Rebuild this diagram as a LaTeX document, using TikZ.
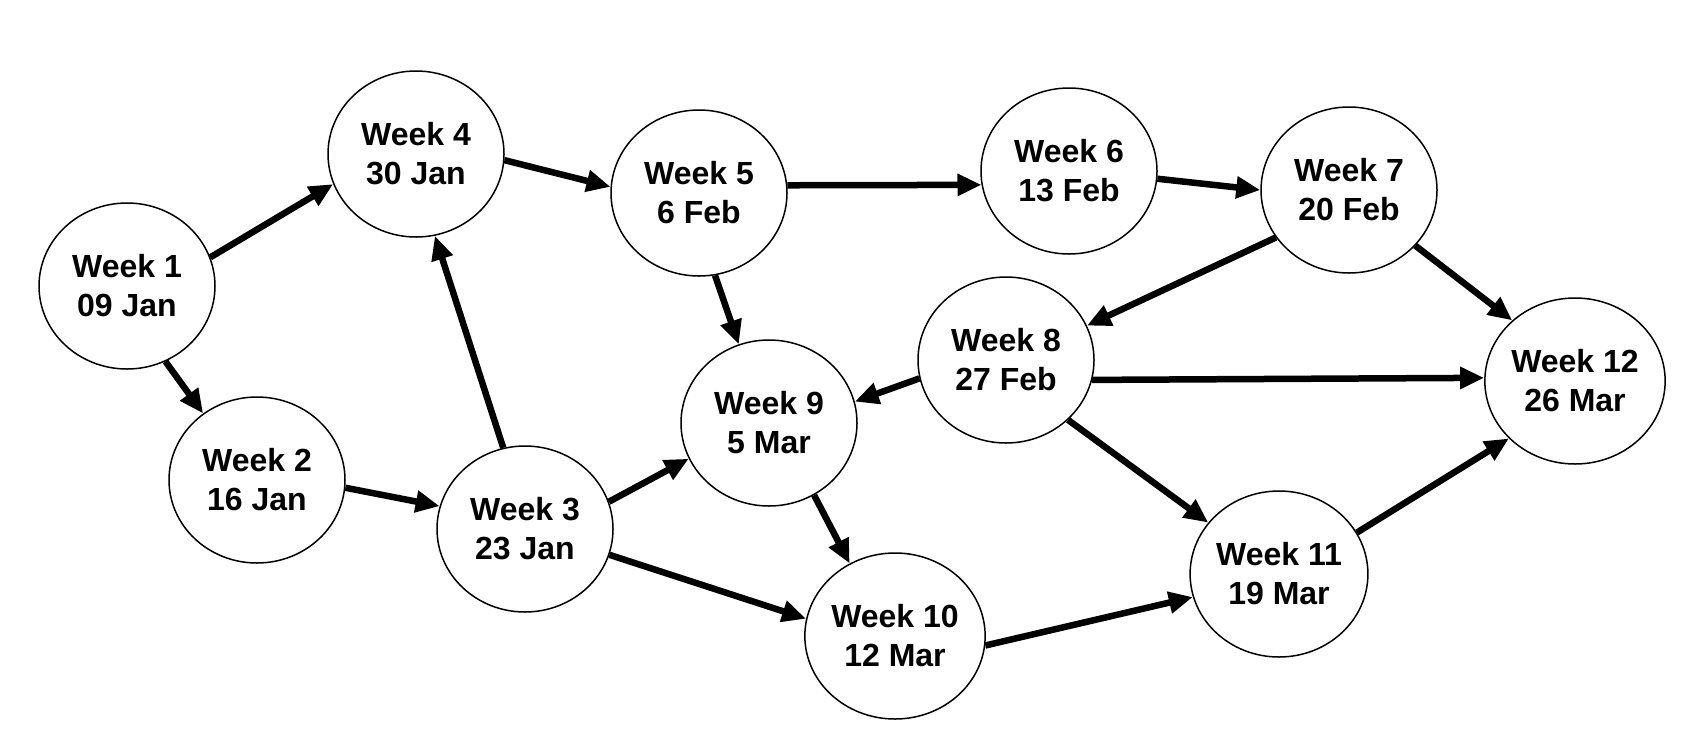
\documentclass[tikz,border=0pt]{standalone}
\usepackage{fontspec}
\setmainfont{Liberation Sans}
\usetikzlibrary{shapes.geometric,arrows.meta}
\begin{document}
\begin{tikzpicture}[x=1pt,y=-1pt,
  wk/.style={ellipse,draw=black,line width=1.5pt,fill=white,minimum width=176pt,minimum height=166pt,inner sep=0pt,
    align=center,font=\fontsize{32}{39}\selectfont\bfseries},
  link/.style={line width=6.5pt,-{Triangle[length=24pt,width=21pt]}}]
\useasboundingbox[fill=white] (0,0) rectangle (1704,734);
\node[wk] (w1) at (127,286) {Week 1\\09 Jan};
\node[wk] (w2) at (257,480) {Week 2\\16 Jan};
\node[wk] (w3) at (525,529) {Week 3\\23 Jan};
\node[wk] (w4) at (416,154) {Week 4\\30 Jan};
\node[wk] (w5) at (699,193) {Week 5\\6 Feb};
\node[wk] (w6) at (1069,171) {Week 6\\13 Feb};
\node[wk] (w7) at (1349,190) {Week 7\\20 Feb};
\node[wk] (w8) at (1006,360) {Week 8\\27 Feb};
\node[wk] (w9) at (769,423) {Week 9\\5 Mar};
\node[wk] (w10) at (895,636) {Week 10\\12 Mar};
\node[wk] (w11) at (1279,574) {Week 11\\19 Mar};
\node[wk] (w12) at (1575,381) {Week 12\\26 Mar};
\draw[link] (w1.19) -- (w4.200);
\draw[link] (w1.-63) -- (w2.129);
\draw[link] (w2.-5.6) -- (w3.165.6);
\draw[link] (w3.105) -- (w4.-77.7);
\draw[link] (w4.-4) -- (w5.176);
\draw[link] (w5.5) -- (w6.189);
\draw[link] (w5.-79) -- (w9.111.5);
\draw[link] (w6.-5.6) -- (w7.180);
\draw[link] (w7.-147) -- (w8.23);
\draw[link] (w7.-40) -- (w12.136.6);
\draw[link] (w8.-168) -- (w9.14.4);
\draw[link] (w8.-13) -- (w12.178.6);
\draw[link] (w8.-44.5) -- (w11.144.7);
\draw[link] (w3.18) -- (w9.-156.6);
\draw[link] (w3.-17) -- (w10.169.6);
\draw[link] (w9.-58.8) -- (w10.122.9);
\draw[link] (w10.-6.3) -- (w11.-165);
\draw[link] (w11.28) -- (w12.-139);
\end{tikzpicture}
\end{document}
